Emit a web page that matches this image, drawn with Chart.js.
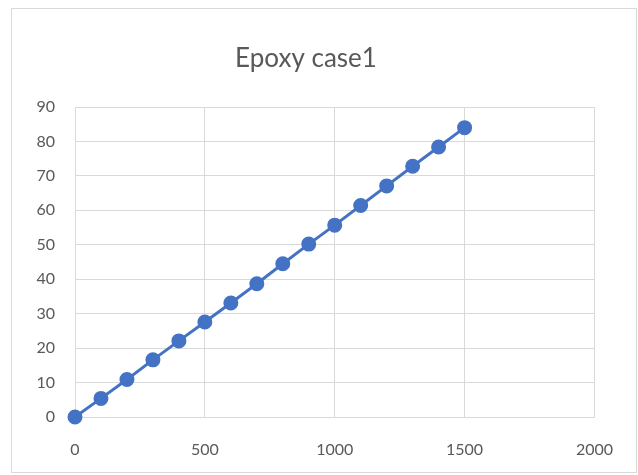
<!DOCTYPE html>
<html>
<head>
<meta charset="utf-8">
<script src="https://cdn.jsdelivr.net/npm/chart.js@4.4.1/dist/chart.umd.min.js"></script>
<style>
  html, body { margin: 0; padding: 0; background: #ffffff; width: 638px; height: 475px; overflow: hidden; }
  #frame {
    position: absolute; left: 11px; top: 8px; width: 626px; height: 465px;
    box-sizing: border-box; border: 1px solid #d9d9d9; background: #ffffff;
  }
  #chart { display: block; }
</style>
</head>
<body>
<div id="frame"><canvas id="chart" width="624" height="463"></canvas></div>
<script>
// Load steps and measured response for the epoxy specimen
const loadSteps = [0, 100, 200, 300, 400, 500, 600, 700, 800, 900, 1000, 1100, 1200, 1300, 1400, 1500];
const response  = [0, 5.4, 10.9, 16.6, 22.1, 27.6, 33.1, 38.7, 44.5, 50.2, 55.7, 61.4, 67.1, 72.8, 78.4, 84.0];

const xTicks = [0, 500, 1000, 1500, 2000];
const yTicks = [0, 10, 20, 30, 40, 50, 60, 70, 80, 90];

const titleText = 'Epoxy case1';
const seriesColor = '#4472C4';
const textColor = '#595959';
const gridColor = '#d9d9d9';
const fontFamily = 'Lato, "Open Sans", sans-serif';

const points = loadSteps.map((x, i) => ({ x: x, y: response[i] }));

new Chart(document.getElementById('chart'), {
  type: 'scatter',
  data: {
    datasets: [{
      label: titleText,
      data: points,
      showLine: true,
      clip: false,
      borderColor: seriesColor,
      borderWidth: 3,
      backgroundColor: seriesColor,
      pointBackgroundColor: seriesColor,
      pointBorderColor: seriesColor,
      pointRadius: 6,
      pointHoverRadius: 6,
      tension: 0
    }]
  },
  options: {
    responsive: false,
    animation: false,
    events: [],
    layout: { padding: { left: 0, right: 36, top: 0, bottom: 0 } },
    plugins: {
      legend: { display: false },
      tooltip: { enabled: false },
      title: {
        display: true,
        text: titleText,
        color: textColor,
        font: { family: fontFamily, size: 26, weight: 'normal', lineHeight: 1.2 },
        padding: { top: 34, bottom: 32.8 }
      }
    },
    scales: {
      x: {
        type: 'linear',
        min: xTicks[0],
        max: xTicks[xTicks.length - 1],
        afterBuildTicks: (scale) => { scale.ticks = xTicks.map(v => ({ value: v })); },
        afterFit: (scale) => { scale.height = 55; },
        grid: { color: gridColor, lineWidth: 1, drawTicks: false },
        border: { color: gridColor, width: 1 },
        ticks: {
          color: textColor,
          padding: 23,
          maxRotation: 0,
          callback: (v) => String(v),
          font: { family: fontFamily, size: 16 }
        }
      },
      y: {
        type: 'linear',
        min: yTicks[0],
        max: yTicks[yTicks.length - 1],
        afterBuildTicks: (scale) => { scale.ticks = yTicks.map(v => ({ value: v })); },
        afterFit: (scale) => { scale.width = 63; },
        grid: { color: gridColor, lineWidth: 1, drawTicks: false },
        border: { color: gridColor, width: 1 },
        ticks: {
          color: textColor,
          padding: 20,
          callback: (v) => String(v),
          font: { family: fontFamily, size: 16 }
        }
      }
    }
  }
});
</script>
</body>
</html>
